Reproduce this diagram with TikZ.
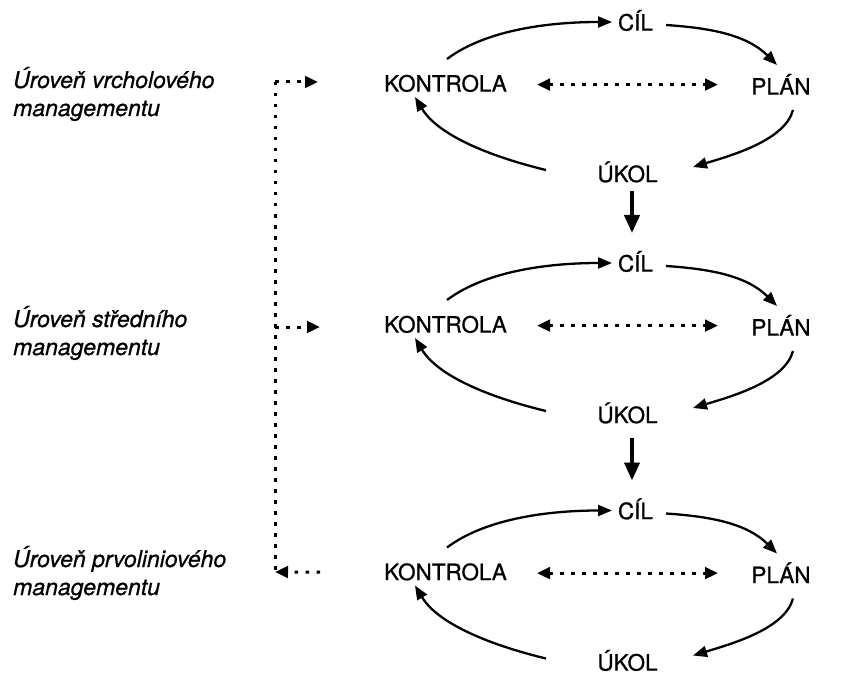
\documentclass[tikz,border=0pt]{standalone}
\usepackage{fontspec}
\setmainfont{TeX Gyre Heros}[FakeBold=0.6]
\newfontfamily\inkfont{TeX Gyre Heros}[RawFeature={embolden=0.8}]
\usetikzlibrary{arrows.meta}
\tikzset{dtip/.tip={Triangle[length=13pt,width=11.5pt]}}
\begin{document}
\begin{tikzpicture}[x=1pt,y=-1pt,
  lbl/.style={anchor=base,inner sep=0pt,font=\inkfont\fontsize{22.5}{27}\selectfont},
  lev/.style={anchor=base west,inner sep=0pt,font=\inkfont\fontsize{23}{28}\selectfont\itshape},
  cyc/.style={line width=2.3pt,-{Triangle[length=14pt,width=11pt]}},
  downarrow/.style={line width=4pt,-{Triangle[length=18pt,width=15pt]}},
  dots/.style={line width=3pt,dash pattern=on 3.5pt off 7.5pt},
]
\fill[white] (0,0) rectangle (844,674);
\useasboundingbox (0,0) rectangle (844,674);

% level labels
\node[lev] (t1) at (13,88)  {Úroveň vrcholového};
\node[lev] (m1) at (13,116) {managementu};
\node[lev] (t2) at (13,327) {Úroveň středního};
\node[lev] (m2) at (13,355) {managementu};
\node[lev] (t3) at (13,567) {Úroveň prvoliniového};
\node[lev] (m3) at (13,595) {managementu};

% cycles
\foreach \i/\o in {1/0,2/241,3/488.5}{
  \node[lbl] (c\i) at (635.5,30.6+\o) {CÍL};
  \node[lbl] (k\i) at (445.5,91.6+\o) {KONTROLA};
  \node[lbl] (p\i) at (781,94.6+\o) {PLÁN};
  \node[lbl] (u\i) at (627.5,182.1+\o) {ÚKOL};
  \draw[cyc] ([shift={(1.5,-32.6)}]k\i.base) .. controls +(40,-30) and +(-60,0) .. ([shift={(-23.5,-8.6)}]c\i.base);
  \draw[cyc] ([shift={(30.5,-5.6)}]c\i.base) .. controls +(45,3) and +(-30,-30) .. ([shift={(-4,-29.6)}]p\i.base);
  \draw[cyc] ([shift={(12,15.4)}]p\i.base) .. controls +(-8,30) and +(40,-12) .. ([shift={(65.5,-15.1)}]u\i.base);
  \draw[cyc] ([shift={(-81.5,-12.1)}]u\i.base) .. controls +(-50,-12) and +(24,40) .. ([shift={(-30.5,5.4)}]k\i.base);
  \draw[dots,dtip-dtip] ([shift={(91.5,-7)}]k\i.base) -- ([shift={(-63,-10)}]p\i.base);
}

% links between levels
\draw[downarrow] ([shift={(4.5,9)}]u1.base) -- ([shift={(-3.5,-38.6)}]c2.base);
\draw[downarrow] ([shift={(4.5,15)}]u2.base) -- ([shift={(-3.5,-38.6)}]c3.base);

% dotted feedback line
\coordinate (v1) at (275,82);
\coordinate (v2) at (275,327);
\coordinate (v3) at (275,572);
\draw[dots] (v1) -- (v3);
\draw[dots,-dtip] (v1) -- ([shift={(-127.5,-9.6)}]k1.base);
\draw[dots,-dtip] (v2) -- ([shift={(-125.5,-5.6)}]k2.base);
\draw[dots,-dtip] ([shift={(-125.5,-8)}]k3.base) -- (v3);
\end{tikzpicture}
\end{document}
